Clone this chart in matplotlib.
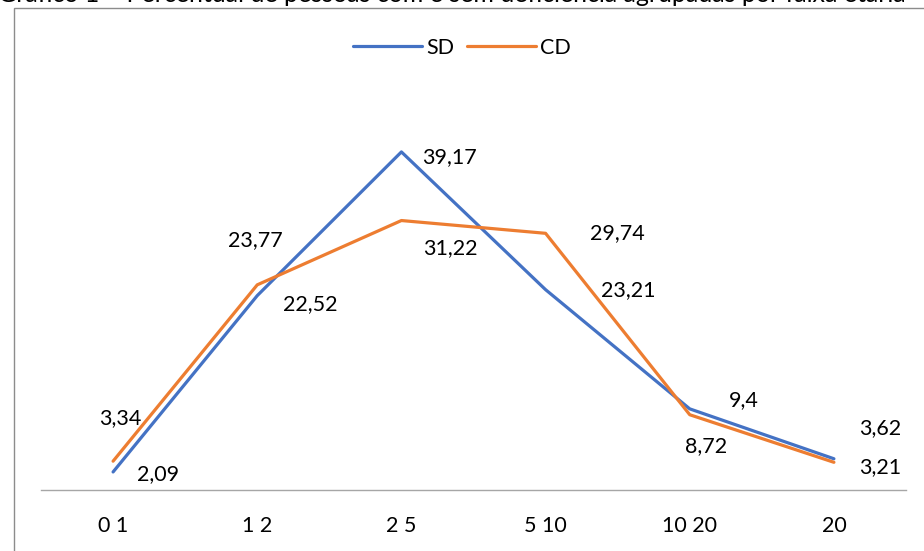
import matplotlib.pyplot as plt
from matplotlib.patches import Rectangle

plt.rcParams['font.family'] = ['Lato', 'DejaVu Sans']

categories = ['0 1', '1 2', '2 5', '5 10', '10 20', '20']
sd = [2.09, 22.52, 39.17, 23.21, 9.4, 3.62]
cd = [3.34, 23.77, 31.22, 29.74, 8.72, 3.21]

BLUE = '#4472C4'
ORANGE = '#ED7D31'

# label offsets in pixels (x right, y up), like Excel's hand-placed labels
sd_off = [(45, -2), (53, -8), (48, -5), (83, 0), (54, 9), (46, 31)]
cd_off = [(7, 43), (-2, 45), (49, -28), (72, 0), (16, -31), (46, -5)]

fig = plt.figure(figsize=(9.24, 5.51), dpi=100)
ax = fig.add_axes([41/924, 61/551, 865/924, 388.4/551])

x = range(len(categories))
ax.plot(x, sd, color=BLUE, lw=2.3, label='SD', solid_capstyle='round')
ax.plot(x, cd, color=ORANGE, lw=2.3, label='CD', solid_capstyle='round')

for i, v in enumerate(sd):
    ax.annotate(str(v).replace('.', ','), (i, v), xytext=sd_off[i],
                textcoords='offset pixels', ha='center', va='center', fontsize=15.5)
for i, v in enumerate(cd):
    ax.annotate(str(v).replace('.', ','), (i, v), xytext=cd_off[i],
                textcoords='offset pixels', ha='center', va='center', fontsize=15.5)

ax.set_xlim(-0.5, len(categories) - 0.5)
ax.set_ylim(0, 45)
ax.set_yticks([])
ax.set_xticks(list(x))
ax.set_xticklabels(categories, fontsize=15.5)
ax.tick_params(axis='x', length=0, pad=19)
for s in ['top', 'right', 'left']:
    ax.spines[s].set_visible(False)
ax.spines['bottom'].set_color('#A6A6A6')
ax.spines['bottom'].set_linewidth(1)

fig.legend(loc='center', bbox_to_anchor=(0.5, 1 - 48/551), ncol=2, frameon=False,
           fontsize=15.5, handlelength=3.2, columnspacing=0.6, handletextpad=0.2)

# outer chart frame (partly cut off like the source crop)
fig.add_artist(Rectangle((14/924, -0.05), 1.0, 1 - 8/551 + 0.05, transform=fig.transFigure,
                         fill=False, edgecolor='#8C8C8C', lw=1))

# chart title, cut off at the top edge as in the source screenshot
fig.text(-0.002, 1 + 5/551, 'Gráfico 1 – Percentual de pessoas com e sem deficiência agrupadas por faixa etária',
         fontsize=18, va='center', ha='left')

fig.savefig('out.png', dpi=100)
